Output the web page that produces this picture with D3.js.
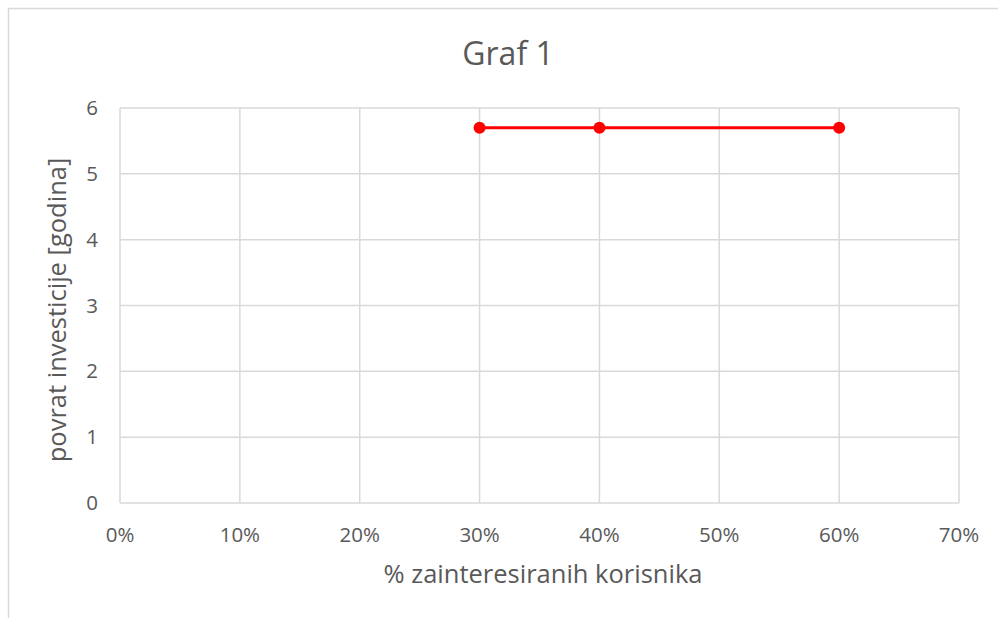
<!DOCTYPE html>
<html><head><meta charset="utf-8">
<script src="https://cdn.jsdelivr.net/npm/d3@7"></script>
<style>html,body{margin:0;padding:0;background:#fff;}svg{display:block;}</style>
</head><body>
<svg id="c" width="998" height="618"></svg>
<script>
const xValues = [0.3, 0.4, 0.6];
const yValues = [5.7, 5.7, 5.7];
const xTicks = [0, 0.1, 0.2, 0.3, 0.4, 0.5, 0.6, 0.7];
const yTicks = [0, 1, 2, 3, 4, 5, 6];
const title = "Graf 1";
const xTitle = "% zainteresiranih korisnika";
const yTitle = "povrat investicije [godina]";

const svg = d3.select("#c");
const font = "'Open Sans', sans-serif";
const txt = "#595959";
const grid = "#d9d9d9";
const m = {l:120, t:108, r:959, b:503};

svg.append("rect").attr("x",8.5).attr("y",8.5).attr("width",1100).attr("height",1100)
  .attr("fill","#fff").attr("stroke","#d9d9d9").attr("stroke-width",1.5);

const x = d3.scaleLinear().domain([0,0.7]).range([m.l,m.r]);
const y = d3.scaleLinear().domain([0,6]).range([m.b,m.t]);

const g = svg.append("g");
g.selectAll(".vg").data(xTicks).join("line")
  .attr("x1",d=>x(d)).attr("x2",d=>x(d)).attr("y1",m.t).attr("y2",m.b)
  .attr("stroke",grid).attr("stroke-width",1.5);
g.selectAll(".hg").data(yTicks).join("line")
  .attr("x1",m.l).attr("x2",m.r).attr("y1",d=>y(d)).attr("y2",d=>y(d))
  .attr("stroke",grid).attr("stroke-width",1.5);

g.selectAll(".xt").data(xTicks).join("text")
  .attr("x",d=>x(d)).attr("y",542).attr("text-anchor","middle")
  .attr("font-family",font).attr("font-size",20.5).attr("fill",txt)
  .text(d=>d3.format(".0%")(d));
g.selectAll(".yt").data(yTicks).join("text")
  .attr("x",98).attr("y",d=>y(d)+7).attr("text-anchor","end")
  .attr("font-family",font).attr("font-size",20.5).attr("fill",txt)
  .text(d=>d);

svg.append("text").attr("x",508).attr("y",65).attr("text-anchor","middle")
  .attr("font-family",font).attr("font-size",32).attr("fill",txt).text(title);
svg.append("text").attr("x",543).attr("y",583).attr("text-anchor","middle")
  .attr("font-family",font).attr("font-size",25.5).attr("fill",txt).text(xTitle);
svg.append("text").attr("transform","translate(66,310) rotate(-90)").attr("text-anchor","middle")
  .attr("font-family",font).attr("font-size",25.5).attr("fill",txt).text(yTitle);

const pts = xValues.map((v,i)=>[v,yValues[i]]);
svg.append("path").datum(pts)
  .attr("d", d3.line().x(d=>x(d[0])).y(d=>y(d[1])))
  .attr("fill","none").attr("stroke","#ff0000").attr("stroke-width",3);
svg.selectAll(".pt").data(pts).join("circle")
  .attr("cx",d=>x(d[0])).attr("cy",d=>y(d[1])).attr("r",6).attr("fill","#ff0000");
</script>
</body></html>
